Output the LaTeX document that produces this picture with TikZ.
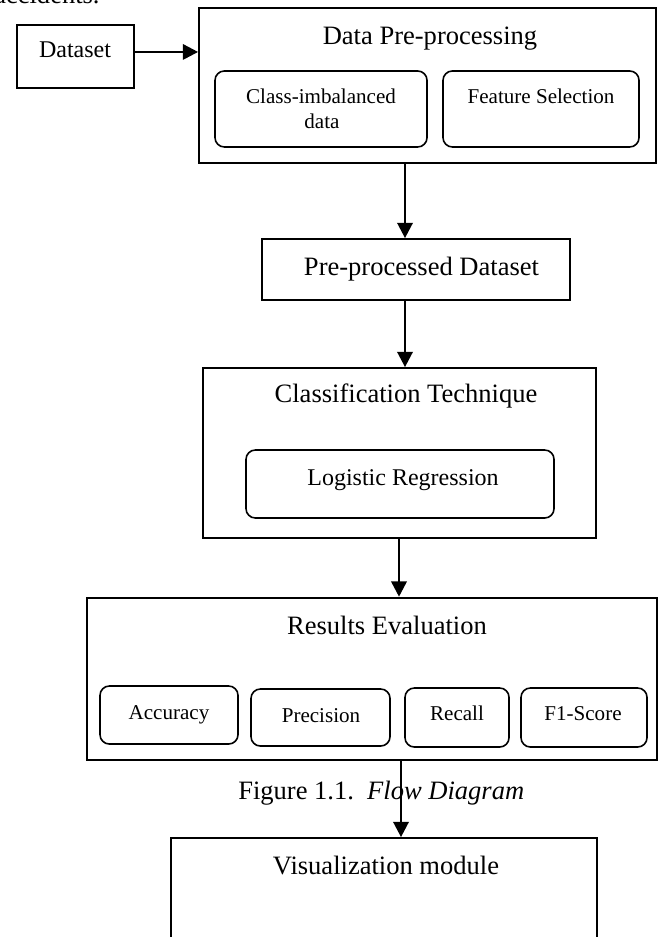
\documentclass[tikz,border=0pt]{standalone}
\usepackage{fontspec}
\setmainfont{Liberation Serif}
\usetikzlibrary{arrows.meta,fit}
\begin{document}
\begin{tikzpicture}[x=0.75pt,y=-0.75pt,
  box/.style={draw, line width=1.3pt, inner sep=0pt},
  thickbox/.style={draw, line width=1.9pt, inner sep=0pt},
  rbox/.style={draw, line width=1.2pt, inner sep=0pt, rounded corners=7pt},
  big/.style={font=\fontsize{19.9}{23}\selectfont, inner sep=0pt, anchor=base},
  mid/.style={font=\fontsize{18}{21}\selectfont, inner sep=0pt, anchor=base},
  small/.style={font=\fontsize{15.8}{18}\selectfont, inner sep=0pt, anchor=base},
  arr/.style={-{Triangle[length=11.5pt,width=11.5pt]}, line width=1.9pt}]
\useasboundingbox (0,0) rectangle (662,937);
\clip (0,0) rectangle (662,937);

% cut-off text at top
\node[big, anchor=base west] (acc) at (-6,4) {accidents.};

% Dataset
\node[box, fit={(17,25) (134,88)}] (ds) {};
\node[mid] (dst) at (75,58) {Dataset};

% Data Pre-processing
\node[box, fit={(199,8) (656,163)}] (dpp) {};
\node[big] (dppt) at (430,45) {Data Pre-processing};
\node[rbox, fit={(215,71) (427,147)}] (ci) {};
\node[small] (ci1) at (321,103.5) {Class-imbalanced};
\node[small] (ci2) at (322,129) {data};
\node[rbox, fit={(443,71) (639,147)}] (fs) {};
\node[small] (fst) at (541,103.5) {Feature Selection};

% Pre-processed Dataset
\node[box, fit={(262,239) (570,300)}] (pre) {};
\node[big] (pret) at (421.5,276) {Pre-processed Dataset};

% Classification Technique
\node[box, fit={(203,368) (596,538)}] (cls) {};
\node[big] (clst) at (406,402.7) {Classification Technique};
\node[rbox, fit={(246,450) (554,518)}] (lr) {};
\node[mid] (lrt) at (403,485.7) {Logistic Regression};

% Results Evaluation
\node[thickbox, fit={(87,598) (657,760)}] (res) {};
\node[big] (rest) at (387,634) {Results Evaluation};
\node[rbox, fit={(100,686) (238,744)}] (ac) {};
\node[small] (act) at (169,719) {Accuracy};
\node[rbox, fit={(251,689) (390,746)}] (pr) {};
\node[small] (prt) at (321,722) {Precision};
\node[rbox, fit={(405,688) (509,747)}] (rc) {};
\node[small] (rct) at (457,720) {Recall};
\node[rbox, fit={(521,688) (647,747)}] (f1) {};
\node[small] (f1t) at (583,720) {F1-Score};

% Caption
\node[big, anchor=base west] (cap) at (238,799) {Figure 1.1.\ \ \textit{Flow Diagram}};

% Visualization module
\node[box, fit={(171,838) (597,980)}] (vis) {};
\node[big] (vist) at (386,874) {Visualization module};

% Connectors
\coordinate (xa) at (405,0);
\coordinate (xb) at (399,0);
\coordinate (xc) at (401,0);
\draw[arr] ([yshift=3.4pt]ds.east) coordinate (a1) -- (a1 -| dpp.west);
\draw[arr] (dpp.south -| xa) -- (pre.north -| xa);
\draw[arr] (pre.south -| xa) -- (cls.north -| xa);
\draw[arr] (cls.south -| xb) -- (res.north -| xb);
\draw[arr] (res.south -| xc) -- (vis.north -| xc);
\end{tikzpicture}
\end{document}
